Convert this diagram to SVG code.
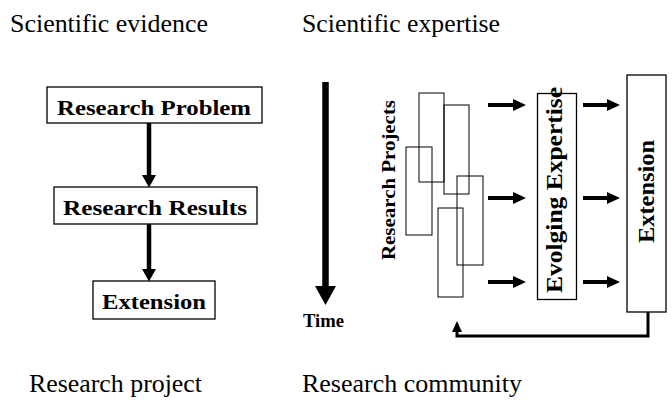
<svg xmlns="http://www.w3.org/2000/svg" width="672" height="406" viewBox="0 0 672 406">
  <defs>
    <style>
      text { font-family: 'Liberation Serif', 'Times New Roman', Times, serif; fill: #000; }
      .title { font-size: 25px; }
      .lbl { font-weight: bold; font-size: 22px; }
      .box { fill: #fff; stroke: #000; stroke-width: 1.3; }
      .proj { fill: none; stroke: #000; stroke-width: 1; }
      .flow { stroke: #000; fill: none; }
    </style>
    <marker id="headS" markerUnits="userSpaceOnUse" markerWidth="13" markerHeight="14" refX="0" refY="7" orient="auto" overflow="visible">
      <path d="M0,0 L12.5,7 L0,14 Z" fill="#000"/>
    </marker>
    <marker id="headR" markerUnits="userSpaceOnUse" markerWidth="13" markerHeight="12" refX="0" refY="6" orient="auto" overflow="visible">
      <path d="M0,0 L13,6 L0,12 Z" fill="#000"/>
    </marker>
    <marker id="headT" markerUnits="userSpaceOnUse" markerWidth="19" markerHeight="21" refX="0" refY="10.5" orient="auto" overflow="visible">
      <path d="M0,0 L19,10.5 L0,21 Z" fill="#000"/>
    </marker>
    <marker id="headF" markerUnits="userSpaceOnUse" markerWidth="11" markerHeight="10" refX="0" refY="5" orient="auto" overflow="visible">
      <path d="M0,0 L11,5 L0,10 Z" fill="#000"/>
    </marker>
  </defs>

  <rect width="672" height="406" fill="#fff"/>

  <!-- column headings and footers -->
  <g id="headings" font-family="Liberation Serif, serif">
    <text class="title" x="10" y="32" textLength="198" lengthAdjust="spacingAndGlyphs">Scientific evidence</text>
    <text class="title" x="302" y="32" textLength="198" lengthAdjust="spacingAndGlyphs">Scientific expertise</text>
    <text class="title" x="29" y="392" textLength="173" lengthAdjust="spacingAndGlyphs">Research project</text>
    <text class="title" x="302" y="392" textLength="220" lengthAdjust="spacingAndGlyphs">Research community</text>
  </g>

  <!-- connectors -->
  <g id="connectors">
    <line class="flow" x1="149" y1="123" x2="149" y2="175" stroke-width="4.5" marker-end="url(#headS)"/>
    <line class="flow" x1="149" y1="224" x2="149" y2="269" stroke-width="4.5" marker-end="url(#headS)"/>

    <line class="flow" x1="325.5" y1="82" x2="325.5" y2="286" stroke-width="6.5" marker-end="url(#headT)"/>

    <line class="flow" x1="488" y1="105" x2="513" y2="105" stroke-width="4" marker-end="url(#headR)"/>
    <line class="flow" x1="488" y1="198" x2="513" y2="198" stroke-width="4" marker-end="url(#headR)"/>
    <line class="flow" x1="488" y1="282" x2="513" y2="282" stroke-width="4" marker-end="url(#headR)"/>
    <line class="flow" x1="583" y1="105" x2="607" y2="105" stroke-width="4" marker-end="url(#headR)"/>
    <line class="flow" x1="583" y1="198" x2="607" y2="198" stroke-width="4" marker-end="url(#headR)"/>
    <line class="flow" x1="583" y1="282" x2="607" y2="282" stroke-width="4" marker-end="url(#headR)"/>

    <path class="flow" d="M648,312 V336 H457 V332" stroke-width="3" marker-end="url(#headF)"/>
  </g>

  <!-- research project flow -->
  <g id="research-problem">
    <rect class="box" x="47" y="87" width="215" height="36"/>
    <text class="lbl" x="57" y="115" textLength="194" lengthAdjust="spacingAndGlyphs">Research Problem</text>
  </g>
  <g id="research-results">
    <rect class="box" x="54" y="187" width="203" height="37"/>
    <text class="lbl" x="63" y="215" textLength="184" lengthAdjust="spacingAndGlyphs">Research Results</text>
  </g>
  <g id="extension-left">
    <rect class="box" x="93" y="281" width="122" height="38"/>
    <text class="lbl" x="102" y="309" textLength="104" lengthAdjust="spacingAndGlyphs">Extension</text>
  </g>

  <g id="time">
    <text class="lbl" x="303" y="327" style="font-size:18px" textLength="41" lengthAdjust="spacingAndGlyphs">Time</text>
  </g>

  <!-- research community -->
  <g id="research-projects">
    <text class="lbl" style="font-size:18px" text-anchor="middle" transform="translate(395,180) rotate(-90)" textLength="160" lengthAdjust="spacingAndGlyphs">Research Projects</text>
    <rect class="proj" x="419" y="93" width="25" height="89"/>
    <rect class="proj" x="444" y="105" width="25" height="89"/>
    <rect class="proj" x="406" y="147" width="26" height="88"/>
    <rect class="proj" x="457" y="176" width="26" height="89"/>
    <rect class="proj" x="438" y="208" width="25" height="89"/>
  </g>
  <g id="evolving-expertise">
    <rect class="box" x="537.5" y="93.5" width="39" height="206"/>
    <text class="lbl" style="font-size:23px" text-anchor="middle" transform="translate(562,190) rotate(-90)" textLength="206" lengthAdjust="spacingAndGlyphs">Evolging Expertise</text>
  </g>
  <g id="extension-right">
    <rect class="box" x="627" y="75" width="39" height="237"/>
    <text class="lbl" style="font-size:23px" text-anchor="middle" transform="translate(654,191.5) rotate(-90)" textLength="103" lengthAdjust="spacingAndGlyphs">Extension</text>
  </g>
</svg>
